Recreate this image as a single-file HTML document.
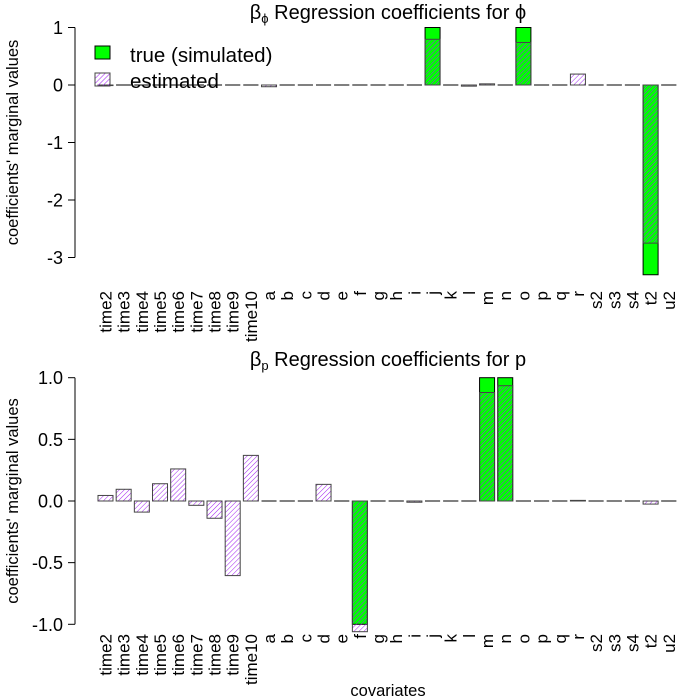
<!DOCTYPE html>
<html><head><meta charset="utf-8"><style>
body{margin:0;background:#fff}
svg{display:block;font-family:"Liberation Sans",sans-serif}
</style></head><body>
<svg id="chart" width="700" height="700">
<defs>
<pattern id="hatch" patternUnits="userSpaceOnUse" width="3.5" height="3.5" patternTransform="rotate(45)">
<line x1="0" y1="0" x2="0" y2="3.5" stroke="#a020f0" stroke-width="1"/>
</pattern>
</defs>
</svg>
<script>
const categories=["time2","time3","time4","time5","time6","time7","time8","time9","time10","a","b","c","d","e","f","g","h","i","j","k","l","m","n","o","p","q","r","s2","s3","s4","t2","u2"];
const phiTrue=[0,0,0,0,0,0,0,0,0,0,0,0,0,0,0,0,0,0,1,0,0,0,0,1,0,0,0,0,0,0,-3.3,0];
const phiEst=[-0.01,0,0,0,0,0,0,0,0,-0.03,0,0,0,0,0,0,0,0,0.795,0,-0.02,0.02,0,0.74,0,0,0.19,0,0.005,0,-2.75,0];
const pTrue=[0,0,0,0,0,0,0,0,0,0,0,0,0,0,-1,0,0,0,0,0,0,1,1,0,0,0,0,0,0,0,0,0];
const pEst=[0.045,0.095,-0.09,0.14,0.26,-0.035,-0.14,-0.605,0.37,0,0,0,0.135,0,-1.06,0,0,-0.01,0,0,0,0.88,0.935,0,0,0,0.005,0,0,0,-0.025,0];
const phiTicks=[1,0,-1,-2,-3];
const pTicks=[1.0,0.5,0.0,-0.5,-1.0];
const NS="http://www.w3.org/2000/svg";
const svg=document.getElementById("chart");
function mk(tag,attrs,parent){const e=document.createElementNS(NS,tag);for(const k in attrs)e.setAttribute(k,attrs[k]);(parent||svg).appendChild(e);return e;}
const xC=i=>105.5+i*18.17;
const bw=15;
function panel(cfg){
  const g=mk("g",{});
  
  
  const y=v=>cfg.y0-v*cfg.scale;
  const ax=mk("g",{},g);
  
  
  const top=y(cfg.ticks[0]),bot=y(cfg.ticks[cfg.ticks.length-1]);
  mk("line",{x1:75,y1:top,x2:75,y2:bot,stroke:"#000"},ax);
  cfg.ticks.forEach(t=>{
    mk("line",{x1:68,y1:y(t),x2:75,y2:y(t),stroke:"#000"},ax);
    const tx=mk("text",{x:63,y:y(t)+6.5,"text-anchor":"end","font-size":"18"},ax);
    tx.textContent=cfg.fmt(t);
    
    
  });
  const yt=mk("text",{x:0,y:0,"text-anchor":"middle","font-size":"16.5",transform:`translate(18,${(top+bot)/2}) rotate(-90)`},g);
  yt.textContent="coefficients' marginal values";
  
  
  function bar(v,i,fill,stroke,kind){
    const h=Math.abs(y(v)-y(0));
    let r;
    if(h<0.5){r=mk("line",{x1:xC(i)-bw/2,x2:xC(i)+bw/2,y1:y(0),y2:y(0),stroke:"#000","stroke-width":"1"},g);}
    else r=mk("rect",{x:xC(i)-bw/2,y:Math.min(y(v),y(0)),width:bw,height:h,fill:fill,stroke:stroke,"stroke-width":"1"},g);
    
    
  }
  cfg.tru.forEach((v,i)=>bar(v,i,"#00ff00","#000","true"));
  cfg.est.forEach((v,i)=>bar(v,i,"url(#hatch)","#444","estimated"));
  categories.forEach((c,i)=>{
    const t=mk("text",{x:0,y:0,"text-anchor":"end","font-size":"17",transform:`translate(${xC(i)+6},${cfg.labY}) rotate(-90)`},g);
    t.textContent=c;
    
    
  });
  const ti=mk("text",{x:388,y:cfg.titleY,"text-anchor":"middle","font-size":"20"},g);
  ti.innerHTML=cfg.title;
  
  
}
panel({name:"phi-panel",y0:85,scale:57.5,ticks:phiTicks,fmt:t=>String(t),tru:phiTrue,est:phiEst,labY:291,titleY:19,
  title:'β<tspan font-size="13" dy="4">ϕ</tspan><tspan dy="-4"> Regression coefficients for ϕ</tspan>'});
panel({name:"p-panel",y0:501,scale:123.3,ticks:pTicks,fmt:t=>t.toFixed(1),tru:pTrue,est:pEst,labY:634,titleY:366,
  title:'β<tspan font-size="13" dy="4">p</tspan><tspan dy="-4"> Regression coefficients for p</tspan>'});
const xl=mk("text",{x:388,y:696,"text-anchor":"middle","font-size":"16.5"});
xl.textContent="covariates";


const lg=mk("g",{});


const l1=mk("rect",{x:95,y:46,width:15,height:13,fill:"#00ff00",stroke:"#000"},lg);


const t1=mk("text",{x:130,y:62,"font-size":"20.5"},lg);t1.textContent="true (simulated)";


const l2=mk("rect",{x:95,y:73,width:15,height:13,fill:"url(#hatch)",stroke:"#444"},lg);


const t2=mk("text",{x:130,y:88,"font-size":"20.5"},lg);t2.textContent="estimated";


</script>
</body></html>
